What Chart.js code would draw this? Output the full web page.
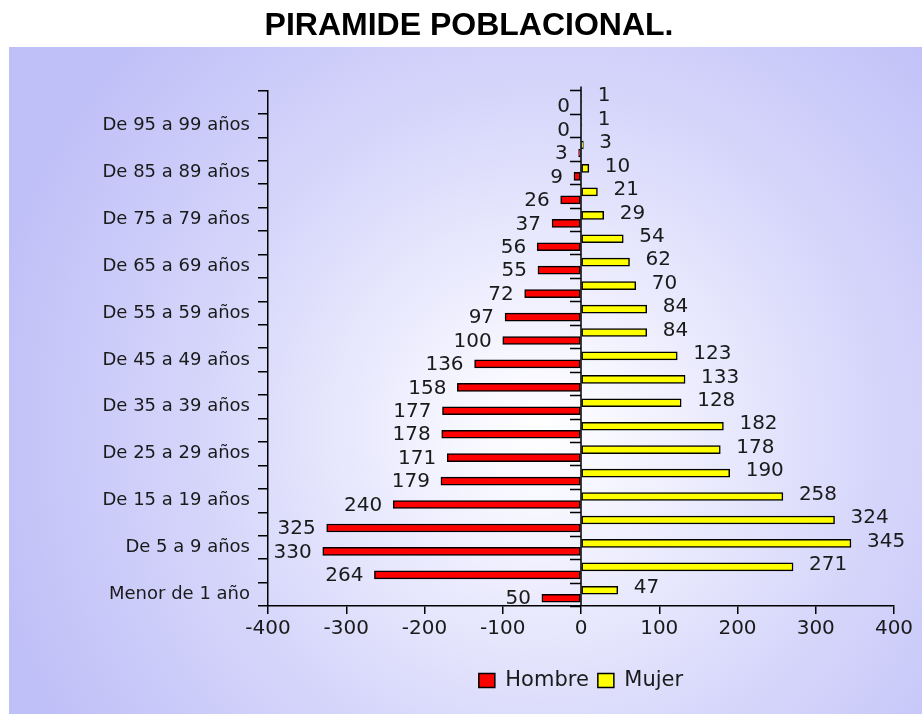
<!DOCTYPE html>
<html>
<head>
<meta charset="utf-8">
<script src="https://cdn.jsdelivr.net/npm/chart.js@4"></script>
<style>
    html, body { margin: 0; padding: 0; background: #ffffff; }
    #wrap { width: 922px; height: 714px; }
</style>
</head>
<body>
<div id="wrap"><canvas id="pyramidChart"></canvas></div>
<script>
// Grupos de edad, de abajo hacia arriba
const ageGroups = [
    'Menor de 1 año', 'De 1 a 4 años', 'De 5 a 9 años', 'De 10 a 14 años',
    'De 15 a 19 años', 'De 20 a 24 años', 'De 25 a 29 años', 'De 30 a 34 años',
    'De 35 a 39 años', 'De 40 a 44 años', 'De 45 a 49 años', 'De 50 a 54 años',
    'De 55 a 59 años', 'De 60 a 64 años', 'De 65 a 69 años', 'De 70 a 74 años',
    'De 75 a 79 años', 'De 80 a 84 años', 'De 85 a 89 años', 'De 90 a 94 años',
    'De 95 a 99 años', 'De 100 años y más'
];
const hombres = [50, 264, 330, 325, 240, 179, 171, 178, 177, 158, 136, 100, 97, 72, 55, 56, 37, 26, 9, 3, 0, 0];
const mujeres = [47, 271, 345, 324, 258, 190, 178, 182, 128, 133, 123, 84, 84, 70, 62, 54, 29, 21, 10, 3, 1, 1];
const xTicks = [-400, -300, -200, -100, 0, 100, 200, 300, 400];

const FONT = '"DejaVu Sans", Verdana, sans-serif';

// Fondo lavanda con degradado hacia el centro
const backgroundPlugin = {
    id: 'backgroundPlugin',
    beforeDraw(chart) {
        const ctx = chart.ctx;
        ctx.save();
        ctx.fillStyle = '#ffffff';
        ctx.fillRect(0, 0, chart.width, chart.height);
        const grad = ctx.createRadialGradient(540, 430, 0, 540, 430, 560);
        grad.addColorStop(0, '#ffffff');
        grad.addColorStop(0.15, '#f6f6ff');
        grad.addColorStop(0.6, '#d6d6fb');
        grad.addColorStop(1, '#c0c0f8');
        ctx.fillStyle = grad;
        ctx.fillRect(9, 47, chart.width - 9, chart.height - 47);
        ctx.restore();
    }
};

// Título centrado en el recuadro y leyenda centrada bajo el área de barras
const placementPlugin = {
    id: 'placementPlugin',
    afterLayout(chart) {
        chart.titleBlock.left = 16;
        chart.titleBlock.right = chart.width;
        chart.legend.left = chart.chartArea.left;
        chart.legend.right = chart.chartArea.right;
    }
};

// Eje en cero con sus marcas y etiquetas de valores
const pyramidPlugin = {
    id: 'pyramidPlugin',
    afterDatasetsDraw(chart) {
        const ctx = chart.ctx;
        const x = chart.scales.x;
        const x0 = x.getPixelForValue(0);
        const area = chart.chartArea;
        ctx.save();
        ctx.strokeStyle = '#000000';
        ctx.lineWidth = 1.5;
        ctx.beginPath();
        ctx.moveTo(x0, area.top - 4);
        ctx.lineTo(x0, area.bottom);
        const step = (area.bottom - area.top) / ageGroups.length;
        for (let i = 0; i <= ageGroups.length; i++) {
            const py = Math.round(area.top + i * step) + 0.5;
            ctx.moveTo(x0 - 11, py);
            ctx.lineTo(x0, py);
        }
        ctx.stroke();

        ctx.font = '20px ' + FONT;
        ctx.fillStyle = '#1a1a1a';
        ctx.textBaseline = 'middle';
        chart.data.datasets.forEach((ds, di) => {
            const meta = chart.getDatasetMeta(di);
            meta.data.forEach((bar, i) => {
                if (ds.label === 'Hombre') {
                    ctx.textAlign = 'right';
                    ctx.fillText(String(hombres[i]), bar.x - 11, bar.y + 1);
                } else {
                    ctx.textAlign = 'left';
                    ctx.fillText(String(mujeres[i]), bar.x + 16, bar.y - 2);
                }
            });
        });
        ctx.restore();
    }
};

const ctx = document.getElementById('pyramidChart').getContext('2d');
const pyramidChart = new Chart(ctx, {
    type: 'bar',
    data: {
        labels: ageGroups,
        datasets: [{
            label: 'Mujer',
            data: mujeres,
            backgroundColor: '#ffff00',
            borderColor: '#000000',
            borderWidth: 1.5,
            borderSkipped: false,
            barThickness: 8
        }, {
            label: 'Hombre',
            data: hombres.map(v => -v),
            backgroundColor: '#ff0000',
            borderColor: '#000000',
            borderWidth: 1.5,
            borderSkipped: false,
            barThickness: 8
        }]
    },
    options: {
        indexAxis: 'y',
        responsive: true,
        maintainAspectRatio: false,
        animation: false,
        layout: { padding: { left: 0, right: 28, bottom: 13, top: 0 } },
        scales: {
            x: {
                min: -400,
                max: 400,
                afterBuildTicks(scale) {
                    scale.ticks = xTicks.map(v => ({ value: v }));
                },
                afterFit(scale) { scale.height = 55; },
                grid: { drawOnChartArea: false, tickLength: 8, color: '#000000', lineWidth: 1.5 },
                border: { color: '#000000', width: 1.5 },
                ticks: { color: '#1a1a1a', font: { family: FONT, size: 20 }, padding: 3 }
            },
            y: {
                reverse: true,
                afterFit(scale) { scale.width = 268; },
                grid: { drawOnChartArea: false, offset: true, tickLength: 10, color: '#000000', lineWidth: 1.5 },
                border: { color: '#000000', width: 1.5 },
                ticks: {
                    autoSkip: false,
                    color: '#1a1a1a',
                    font: { family: FONT, size: 18 },
                    padding: 8,
                    callback: function (value, index) {
                        return index % 2 === 0 ? ageGroups[index] : '';
                    }
                }
            }
        },
        plugins: {
            title: {
                display: true,
                text: 'PIRAMIDE POBLACIONAL.',
                color: '#000000',
                font: { family: '"Liberation Sans", Arial, sans-serif', size: 32, weight: 'bold', lineHeight: 1.2 },
                padding: { top: 7, bottom: 45 }
            },
            legend: {
                position: 'bottom',
                reverse: true,
                labels: {
                    color: '#1a1a1a',
                    font: { family: FONT, size: 21 },
                    boxWidth: 16,
                    boxHeight: 14,
                    padding: 9
                }
            },
            tooltip: { enabled: false }
        }
    },
    plugins: [backgroundPlugin, placementPlugin, pyramidPlugin]
});
</script>
</body>
</html>
